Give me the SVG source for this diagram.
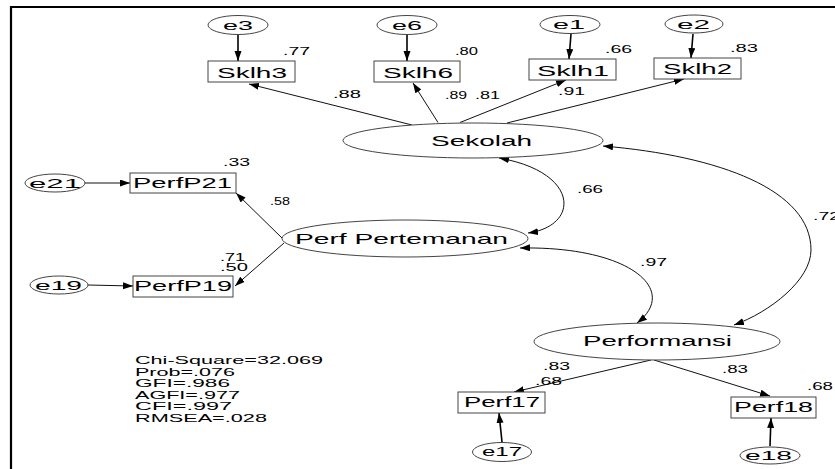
<svg xmlns="http://www.w3.org/2000/svg" width="835" height="469" viewBox="0 0 835 469">
<style>
text{font-family:"Liberation Sans",Arial,sans-serif;fill:#000}
.nl{font-size:14.5px}
.el{font-size:12px}
.lb{font-size:10px}
.fit{font-size:10.5px}
.box{fill:#fff;stroke:#444;stroke-width:1}
.ell{fill:#fff;stroke:#444;stroke-width:1}
.thin{fill:none;stroke:#111;stroke-width:1}
.thick{fill:none;stroke:#000;stroke-width:1.6}
</style>
<defs>
<marker id="ah" markerUnits="userSpaceOnUse" markerWidth="11" markerHeight="8" refX="10" refY="3.5" orient="auto-start-reverse">
<path d="M0,0 L10,3.5 L0,7 z" fill="#000"/>
</marker>
</defs>
<rect width="835" height="469" fill="#fff"/>
<g id="frame">
<line x1="11" y1="7" x2="835" y2="7" stroke="#000" stroke-width="2"/>
<line x1="11" y1="6" x2="11" y2="469" stroke="#000" stroke-width="2.2"/>
</g>
<g id="connectors">
<line class="thick" x1="238" y1="34.5" x2="238" y2="61" marker-end="url(#ah)"/>
<line class="thick" x1="407" y1="34.5" x2="407" y2="61" marker-end="url(#ah)"/>
<line class="thick" x1="571" y1="34" x2="569" y2="59" marker-end="url(#ah)"/>
<line class="thick" x1="693" y1="34" x2="691" y2="58" marker-end="url(#ah)"/>
<line class="thin" x1="85" y1="183" x2="130" y2="183" marker-end="url(#ah)"/>
<line class="thin" x1="88" y1="285" x2="133" y2="286" marker-end="url(#ah)"/>
<line class="thick" x1="502" y1="442" x2="499" y2="413" marker-end="url(#ah)"/>
<line class="thick" x1="770" y1="446" x2="771" y2="418" marker-end="url(#ah)"/>
<line class="thin" x1="412" y1="125" x2="249" y2="84" marker-end="url(#ah)"/>
<line class="thin" x1="438" y1="122.5" x2="413" y2="83" marker-end="url(#ah)"/>
<line class="thin" x1="460" y1="122.5" x2="566" y2="80" marker-end="url(#ah)"/>
<line class="thin" x1="507" y1="123" x2="684" y2="79" marker-end="url(#ah)"/>
<line class="thin" x1="282" y1="238" x2="236" y2="193" marker-end="url(#ah)"/>
<line class="thin" x1="284" y1="243" x2="235" y2="286" marker-end="url(#ah)"/>
<line class="thin" x1="651" y1="360" x2="514" y2="392" marker-end="url(#ah)"/>
<line class="thin" x1="654" y1="360" x2="770" y2="396" marker-end="url(#ah)"/>
<path class="thin" d="M499,158 C580,172 580,226 528,233" marker-start="url(#ah)" marker-end="url(#ah)"/>
<path class="thin" d="M520,248 C630,246 680,290 637,323" marker-start="url(#ah)" marker-end="url(#ah)"/>
<path class="thin" d="M603,146 C720,156 811,190 811,250 C811,280 770,312 734,325" marker-start="url(#ah)" marker-end="url(#ah)"/>
</g>
<g id="e3"><ellipse class="ell" cx="238" cy="25" rx="30" ry="9.5"/><text class="el" x="223" y="29.5" textLength="30" lengthAdjust="spacingAndGlyphs">e3</text></g>
<g id="e6"><ellipse class="ell" cx="407" cy="25" rx="30" ry="9.5"/><text class="el" x="392" y="29.5" textLength="30" lengthAdjust="spacingAndGlyphs">e6</text></g>
<g id="e1"><ellipse class="ell" cx="570" cy="24.5" rx="30" ry="9"/><text class="el" x="553" y="28.5" textLength="32" lengthAdjust="spacingAndGlyphs">e1</text></g>
<g id="e2"><ellipse class="ell" cx="694" cy="24" rx="29" ry="9"/><text class="el" x="677" y="28.5" textLength="33" lengthAdjust="spacingAndGlyphs">e2</text></g>
<g id="Sklh3"><rect class="box" x="208" y="61" width="87" height="21"/><text class="nl" x="217" y="78" textLength="70" lengthAdjust="spacingAndGlyphs">Sklh3</text></g>
<g id="Sklh6"><rect class="box" x="374" y="61" width="86" height="21"/><text class="nl" x="383" y="78" textLength="70" lengthAdjust="spacingAndGlyphs">Sklh6</text></g>
<g id="Sklh1"><rect class="box" x="529" y="59" width="87" height="21"/><text class="nl" x="537" y="75.5" textLength="72" lengthAdjust="spacingAndGlyphs">Sklh1</text></g>
<g id="Sklh2"><rect class="box" x="654" y="58" width="87" height="21"/><text class="nl" x="663" y="74" textLength="69" lengthAdjust="spacingAndGlyphs">Sklh2</text></g>
<g id="Sekolah"><ellipse class="ell" cx="473" cy="140.5" rx="130" ry="17.5"/><text class="nl" x="431" y="145.5" textLength="101" lengthAdjust="spacingAndGlyphs">Sekolah</text></g>
<g id="e21"><ellipse class="ell" cx="55" cy="183" rx="30" ry="9"/><text class="el" x="29" y="187.5" textLength="52" lengthAdjust="spacingAndGlyphs">e21</text></g>
<g id="PerfP21"><rect class="box" x="130" y="173" width="106" height="20"/><text class="nl" x="133" y="188" textLength="99" lengthAdjust="spacingAndGlyphs">PerfP21</text></g>
<g id="PerfPertemanan"><ellipse class="ell" cx="405" cy="238.5" rx="123" ry="18.5"/><text class="nl" x="295" y="243.5" textLength="213" lengthAdjust="spacingAndGlyphs">Perf Pertemanan</text></g>
<g id="e19"><ellipse class="ell" cx="59" cy="285" rx="29" ry="9"/><text class="el" x="35" y="289.5" textLength="47" lengthAdjust="spacingAndGlyphs">e19</text></g>
<g id="PerfP19"><rect class="box" x="133" y="276" width="100" height="21"/><text class="nl" x="134" y="291" textLength="98" lengthAdjust="spacingAndGlyphs">PerfP19</text></g>
<g id="Performansi"><ellipse class="ell" cx="657" cy="341.5" rx="123" ry="18.5"/><text class="nl" x="583" y="346" textLength="149" lengthAdjust="spacingAndGlyphs">Performansi</text></g>
<g id="Perf17"><rect class="box" x="458" y="392" width="87" height="21"/><text class="nl" x="464" y="407" textLength="76" lengthAdjust="spacingAndGlyphs">Perf17</text></g>
<g id="Perf18"><rect class="box" x="731" y="397" width="85" height="21"/><text class="nl" x="734" y="412" textLength="79" lengthAdjust="spacingAndGlyphs">Perf18</text></g>
<g id="e17"><ellipse class="ell" cx="502" cy="452" rx="29.5" ry="9.5"/><text class="el" x="482" y="456" textLength="40" lengthAdjust="spacingAndGlyphs">e17</text></g>
<g id="e18"><ellipse class="ell" cx="770" cy="455.5" rx="30" ry="8.5"/><text class="el" x="745" y="459.5" textLength="47" lengthAdjust="spacingAndGlyphs">e18</text></g>
<g id="labels">
<text class="lb" x="283" y="55" textLength="27" lengthAdjust="spacingAndGlyphs">.77</text>
<text class="lb" x="333" y="98" textLength="28" lengthAdjust="spacingAndGlyphs">.88</text>
<text class="lb" x="455" y="55" textLength="23" lengthAdjust="spacingAndGlyphs">.80</text>
<text class="lb" x="445" y="99" textLength="22" lengthAdjust="spacingAndGlyphs">.89</text>
<text class="lb" x="475" y="99" textLength="25" lengthAdjust="spacingAndGlyphs">.81</text>
<text class="lb" x="605" y="53" textLength="27" lengthAdjust="spacingAndGlyphs">.66</text>
<text class="lb" x="558" y="95" textLength="27" lengthAdjust="spacingAndGlyphs">.91</text>
<text class="lb" x="730" y="52" textLength="28" lengthAdjust="spacingAndGlyphs">.83</text>
<text class="lb" x="223" y="166" textLength="27" lengthAdjust="spacingAndGlyphs">.33</text>
<text class="lb" x="270" y="205" textLength="20" lengthAdjust="spacingAndGlyphs">.58</text>
<text class="lb" x="220" y="261" textLength="25" lengthAdjust="spacingAndGlyphs">.71</text>
<text class="lb" x="220" y="271" textLength="28" lengthAdjust="spacingAndGlyphs">.50</text>
<text class="lb" x="577" y="193" textLength="26" lengthAdjust="spacingAndGlyphs">.66</text>
<text class="lb" x="640" y="266" textLength="27" lengthAdjust="spacingAndGlyphs">.97</text>
<text class="lb" x="813" y="220" textLength="27" lengthAdjust="spacingAndGlyphs">.72</text>
<text class="lb" x="543" y="370" textLength="27" lengthAdjust="spacingAndGlyphs">.83</text>
<text class="lb" x="535" y="385" textLength="27" lengthAdjust="spacingAndGlyphs">.68</text>
<text class="lb" x="722" y="373" textLength="26" lengthAdjust="spacingAndGlyphs">.83</text>
<text class="lb" x="807" y="390" textLength="26" lengthAdjust="spacingAndGlyphs">.68</text>
</g>
<g id="fit">
<text class="fit" x="135" y="364" textLength="188" lengthAdjust="spacingAndGlyphs">Chi-Square=32.069</text>
<text class="fit" x="135" y="375.5" textLength="100" lengthAdjust="spacingAndGlyphs">Prob=.076</text>
<text class="fit" x="135" y="387" textLength="95" lengthAdjust="spacingAndGlyphs">GFI=.986</text>
<text class="fit" x="135" y="398.5" textLength="105" lengthAdjust="spacingAndGlyphs">AGFI=.977</text>
<text class="fit" x="135" y="410" textLength="97" lengthAdjust="spacingAndGlyphs">CFI=.997</text>
<text class="fit" x="135" y="421.5" textLength="132" lengthAdjust="spacingAndGlyphs">RMSEA=.028</text>
</g>
</svg>
